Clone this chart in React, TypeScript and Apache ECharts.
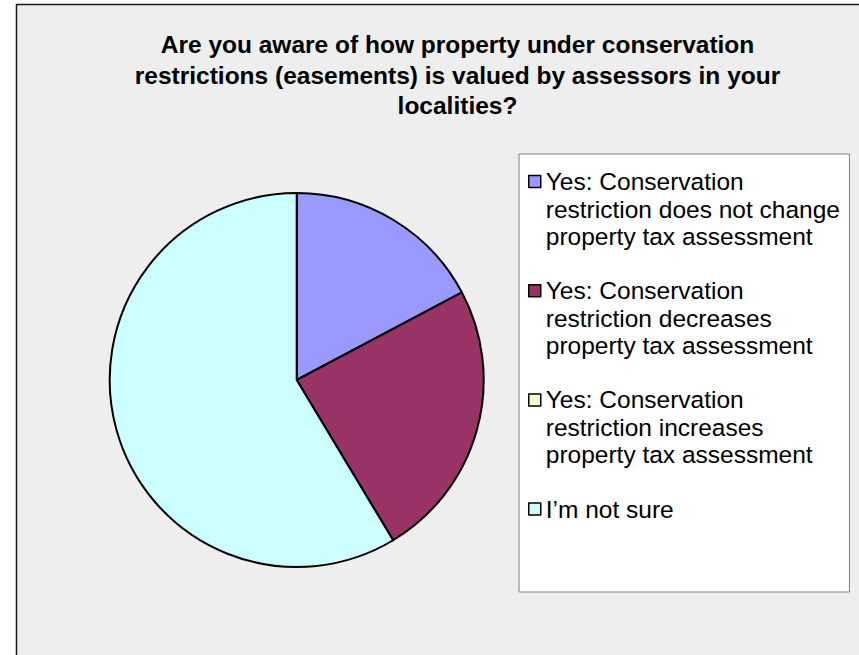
import React, { useEffect, useRef } from 'react';
import * as echarts from 'echarts';

const titleLines = [
  'Are you aware of how property under conservation',
  'restrictions (easements) is valued by assessors in your',
  'localities?',
];
const categories = [
  'Yes: Conservation\nrestriction does not change\nproperty tax assessment',
  'Yes: Conservation\nrestriction decreases\nproperty tax assessment',
  'Yes: Conservation\nrestriction increases\nproperty tax assessment',
  'I’m not sure',
];
const values = [5, 7, 0, 17];
const colors = ['#9999ff', '#993366', '#ffffcc', '#ccffff'];

const FONT = "'Liberation Sans', Arial, sans-serif";
const LINE = 27.5;
const ITEM_LINES = 3;
const ITEM_H = LINE * ITEM_LINES;
const ICON_W = 12;
const ICON_STROKE = 1.5;
const ITEM_STEP = 109.2;

const ICON_PATH = `path://M0,${LINE / 2 - ICON_W / 2}h${ICON_W}v${ICON_W}h-${ICON_W}zM0,0M${ICON_W},${ITEM_H}`;

export default function App() {
  const ref = useRef<HTMLDivElement>(null);
  useEffect(() => {
    if (!ref.current) return;
    const chart = echarts.init(ref.current, undefined, { renderer: 'svg' });
    chart.setOption({
      animation: false,
      backgroundColor: '#ffffff',
      graphic: [
        {
          type: 'rect',
          z: -10,
          silent: true,
          shape: { x: 16.5, y: 4.5, width: 1000, height: 1000 },
          style: { fill: '#eeeeee', stroke: '#1a1a1a', lineWidth: 1.5 },
        },
      ],
      title: {
        text: titleLines.join('\n'),
        left: 457.5,
        top: 29.5,
        padding: 0,
        textAlign: 'center',
        textStyle: {
          fontFamily: FONT,
          fontSize: 24.5,
          fontWeight: 'bold',
          lineHeight: 30.5,
          color: '#000',
        },
      },
      legend: {
        orient: 'vertical',
        left: 519,
        top: 154,
        padding: [13, 9.5, 13.4, 9],
        itemWidth: ICON_W,
        itemHeight: ITEM_H,
        itemGap: ITEM_STEP - ITEM_H - ICON_STROKE,
        backgroundColor: '#ffffff',
        borderColor: '#808080',
        borderWidth: 1,
        selectedMode: false,
        data: categories.map((name) => ({ name, icon: ICON_PATH })),
        formatter: (name: string) => {
          const n = name.split('\n').length;
          return name + '\n'.repeat(Math.max(0, ITEM_LINES - n));
        },
        itemStyle: { borderColor: '#000', borderWidth: ICON_STROKE },
        textStyle: {
          fontFamily: FONT,
          fontSize: 24.5,
          lineHeight: LINE,
          color: '#000',
        },
      },
      series: [
        {
          type: 'pie',
          center: [296.7, 380],
          radius: 187,
          startAngle: 90,
          clockwise: true,
          silent: true,
          avoidLabelOverlap: false,
          label: { show: false },
          labelLine: { show: false },
          emphasis: { disabled: true },
          itemStyle: { borderColor: '#000', borderWidth: 2 },
          data: categories.map((name, i) => ({
            name,
            value: values[i],
            itemStyle: { color: colors[i] },
          })),
        },
      ],
    });
    return () => chart.dispose();
  }, []);
  return (
    <div
      ref={ref}
      style={{ position: 'absolute', left: 0, top: 0, width: 859, height: 655 }}
    />
  );
}
